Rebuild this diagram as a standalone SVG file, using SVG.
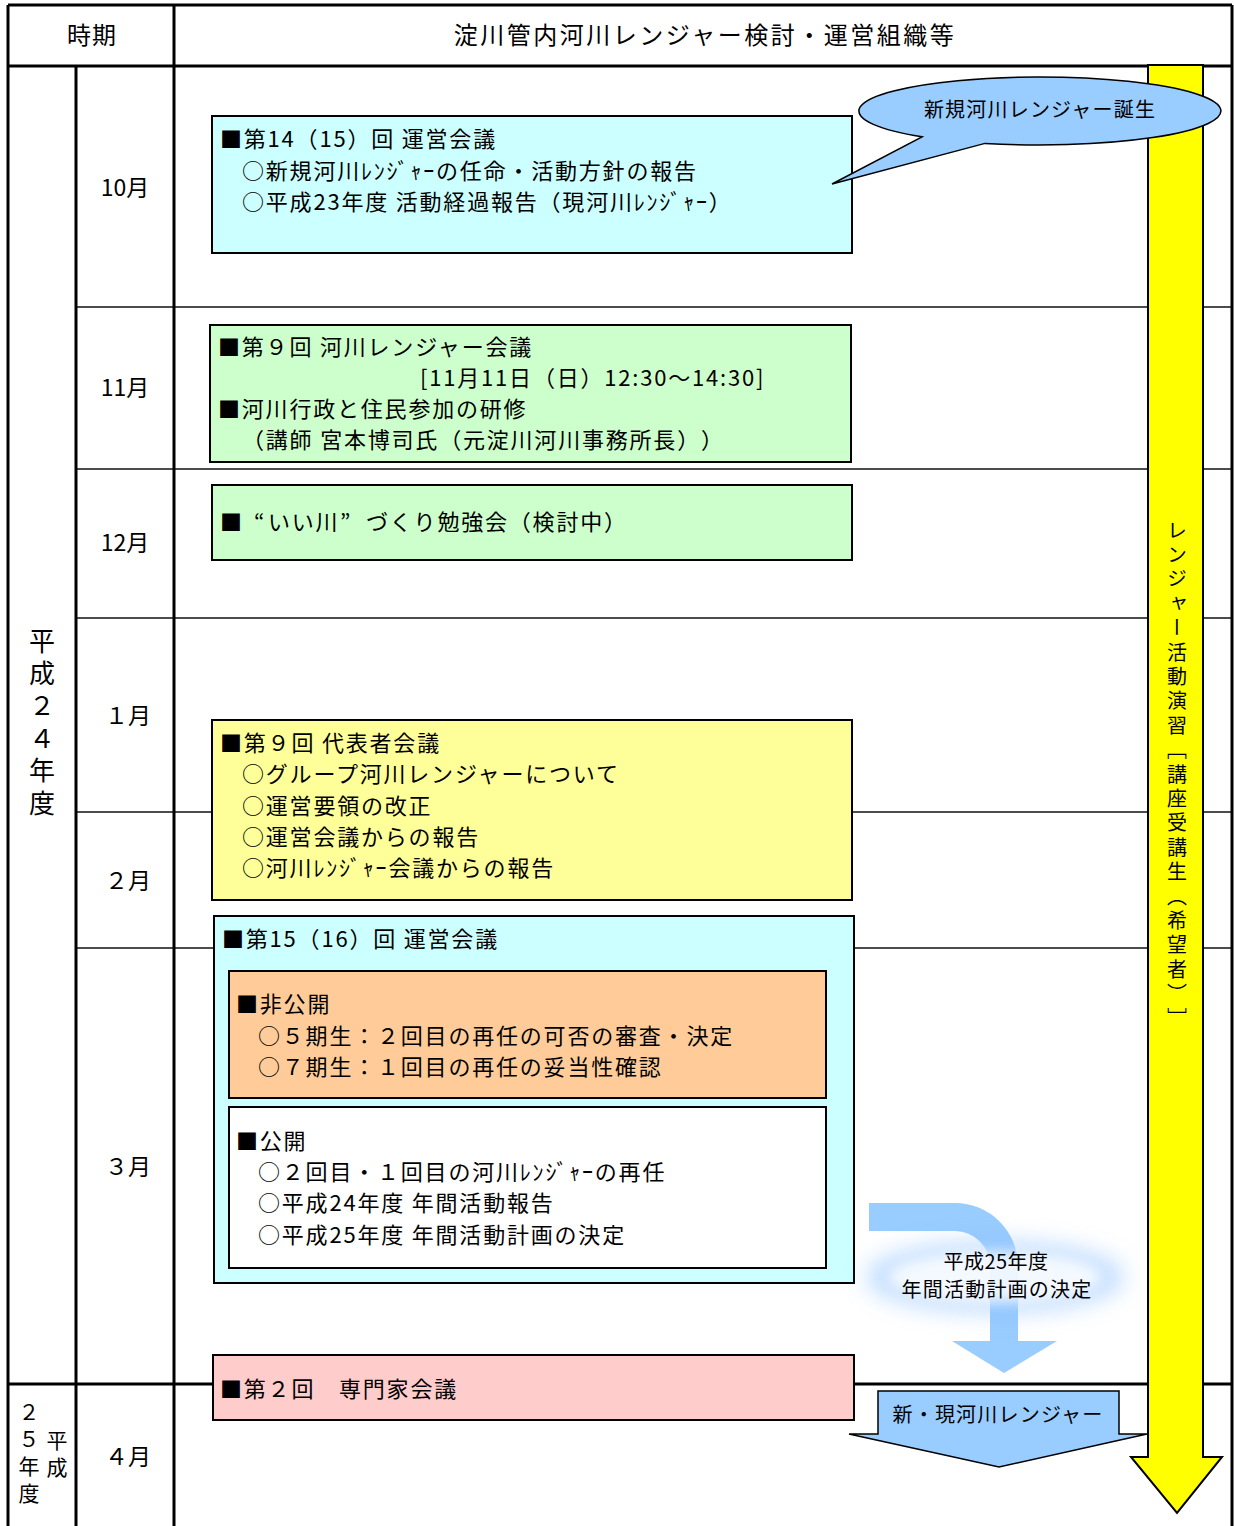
<svg xmlns="http://www.w3.org/2000/svg" width="1234" height="1526" viewBox="0 0 1234 1526">
<defs>
<style>
text{text-spacing-trim:space-all;transform:translateY(-2px)}
.t{font-family:"Noto Sans CJK JP","Noto Sans CJK SC",sans-serif;font-size:22px;letter-spacing:1.8px;dominant-baseline:central;fill:#000}
.m{font-family:"Noto Sans CJK JP","Noto Sans CJK SC",sans-serif;font-size:23px;dominant-baseline:central;text-anchor:middle;fill:#000}
.v{font-family:"Noto Sans CJK JP","Noto Sans CJK SC",sans-serif;writing-mode:vertical-rl;fill:#000}
.s{font-family:"Noto Sans CJK JP","Noto Sans CJK SC",sans-serif;font-size:20px;letter-spacing:1.2px;dominant-baseline:central;text-anchor:middle;fill:#000}
.thick{stroke:#000;stroke-width:3;fill:none}
.thin{stroke:#111;stroke-width:1.5;fill:none}
.box{stroke:#000;stroke-width:2}
</style>
<filter id="blur12" x="-50%" y="-50%" width="200%" height="200%"><feGaussianBlur stdDeviation="12"/></filter>
<filter id="blur7" x="-50%" y="-50%" width="200%" height="200%"><feGaussianBlur stdDeviation="7"/></filter>
</defs>
<rect x="0" y="0" width="1234" height="1526" fill="#fff"/>

<g id="table">
<line class="thin" x1="76" y1="307" x2="1232" y2="307"/>
<line class="thin" x1="76" y1="469" x2="1232" y2="469"/>
<line class="thin" x1="76" y1="618" x2="1232" y2="618"/>
<line class="thin" x1="76" y1="812" x2="1232" y2="812"/>
<line class="thin" x1="76" y1="948" x2="1232" y2="948"/>
<line class="thick" x1="8" y1="1384" x2="1232" y2="1384"/>
<line class="thick" x1="8" y1="5" x2="1232" y2="5"/>
<line class="thick" x1="8" y1="66" x2="1232" y2="66"/>
<line class="thick" x1="8" y1="5" x2="8" y2="1526"/>
<line class="thick" x1="1232" y1="5" x2="1232" y2="1526"/>
<line class="thick" x1="76" y1="66" x2="76" y2="1526"/>
<line class="thick" x1="174" y1="5" x2="174" y2="1526"/>
<text class="m" x="92" y="35" style="font-size:24px;letter-spacing:1px">時期</text>
<text class="m" x="705" y="35" style="font-size:24px;letter-spacing:2.5px">淀川管内河川レンジャー検討・運営組織等</text>
<text class="m" x="125" y="188">10月</text>
<text class="m" x="125" y="388">11月</text>
<text class="m" x="125" y="543">12月</text>
<text class="m" x="128" y="716">１月</text>
<text class="m" x="128" y="881">２月</text>
<text class="m" x="128" y="1167">３月</text>
<text class="m" x="128" y="1457">４月</text>
<text class="v" x="42" y="630" style="font-size:26px;letter-spacing:6.4px">平成２４年度</text>
<text class="v" x="29" y="1404" style="font-size:21px;letter-spacing:6px">２５年度</text>
<text class="v" x="57" y="1432" style="font-size:21px;letter-spacing:6px">平成</text>
</g>

<g id="node-oct">
<rect class="box" x="212" y="116" width="640" height="137" fill="#CCFFFF"/>
<text class="t" x="220" y="139">■第14（15）回 運営会議</text>
<text class="t" x="242" y="171">○新規河川ﾚﾝｼﾞｬｰの任命・活動方針の報告</text>
<text class="t" x="242" y="202">○平成23年度 活動経過報告（現河川ﾚﾝｼﾞｬｰ）</text>
</g>

<g id="node-nov">
<rect class="box" x="210" y="325" width="641" height="137" fill="#CCFFCC"/>
<text class="t" x="218" y="347">■第９回 河川レンジャー会議</text>
<text class="t" x="420" y="378">[11月11日（日）12:30～14:30]</text>
<text class="t" x="218" y="409">■河川行政と住民参加の研修</text>
<text class="t" x="242" y="440">（講師 宮本博司氏（元淀川河川事務所長））</text>
</g>

<g id="node-dec">
<rect class="box" x="212" y="485" width="640" height="75" fill="#CCFFCC"/>
<text class="t" y="522"><tspan x="220">■</tspan><tspan x="254">“</tspan><tspan x="268">いい川</tspan><tspan x="340">”</tspan><tspan x="366">づくり勉強会（検討中）</tspan></text>
</g>

<g id="node-jan">
<rect class="box" x="212" y="720" width="640" height="180" fill="#FFFF99"/>
<text class="t" x="220" y="743">■第９回 代表者会議</text>
<text class="t" x="242" y="774">○グループ河川レンジャーについて</text>
<text class="t" x="242" y="806">○運営要領の改正</text>
<text class="t" x="242" y="837">○運営会議からの報告</text>
<text class="t" x="242" y="868">○河川ﾚﾝｼﾞｬｰ会議からの報告</text>
</g>

<g id="node-mar">
<rect class="box" x="214" y="916" width="640" height="367" fill="#CCFFFF"/>
<text class="t" x="222" y="939">■第15（16）回 運営会議</text>
<g id="node-closed">
<rect class="box" x="229" y="971" width="597" height="127" fill="#FFCC99"/>
<text class="t" x="236" y="1004">■非公開</text>
<text class="t" x="258" y="1036">○５期生：２回目の再任の可否の審査・決定</text>
<text class="t" x="258" y="1067">○７期生：１回目の再任の妥当性確認</text>
</g>
<g id="node-open">
<rect class="box" x="229" y="1107" width="597" height="161" fill="#FFFFFF"/>
<text class="t" x="236" y="1141">■公開</text>
<text class="t" x="258" y="1172">○２回目・１回目の河川ﾚﾝｼﾞｬｰの再任</text>
<text class="t" x="258" y="1203">○平成24年度 年間活動報告</text>
<text class="t" x="258" y="1235">○平成25年度 年間活動計画の決定</text>
</g>
</g>

<g id="node-apr">
<rect class="box" x="213" y="1355" width="641" height="65" fill="#FFCCCC"/>
<text class="t" x="220" y="1389">■第２回　専門家会議</text>
</g>

<g id="connectors">
<g id="ranger-arrow">
<path d="M1148,65 H1203 V1457 H1222 L1177,1513 L1131,1457 H1148 Z" fill="#FFFF00" stroke="#000" stroke-width="2" stroke-linejoin="miter"/>
<text class="v" x="1177" y="522" style="font-size:20px;letter-spacing:4.4px">レンジャー活動演習［講座受講生（希望者）］</text>
</g>
<g id="callout">
<path d="M985,143.4 A181,34 0 1 0 922,136.8 L832,184 Z" fill="#99CCFF" stroke="#000" stroke-width="1.5" stroke-linejoin="miter"/>
<text class="s" x="1040" y="110">新規河川レンジャー誕生</text>
</g>
<g id="plan-arrow">
<path d="M869,1203 H955 A63,63 0 0 1 1018,1266 V1341 H1057 L1004,1373 L952,1341 H990 V1266 A35,35 0 0 0 955,1231 H869 Z" fill="#99CCFF"/>
<ellipse cx="995" cy="1277" rx="128" ry="34" fill="#7DB8FF" opacity="0.55" filter="url(#blur12)"/>
<ellipse cx="995" cy="1277" rx="108" ry="26" fill="#FFFFFF" opacity="0.85" filter="url(#blur7)"/>
<text class="s" x="996" y="1262" style="letter-spacing:0.5px">平成25年度</text>
<text class="s" x="997" y="1290">年間活動計画の決定</text>
</g>
<g id="ranger-out">
<path d="M878,1391 H1119 V1434 H1147 L999,1467 L849,1434 H878 Z" fill="#99CCFF" stroke="#000" stroke-width="1.5" stroke-linejoin="miter"/>
<text class="s" x="998" y="1415">新・現河川レンジャー</text>
</g>
</g>
</svg>
